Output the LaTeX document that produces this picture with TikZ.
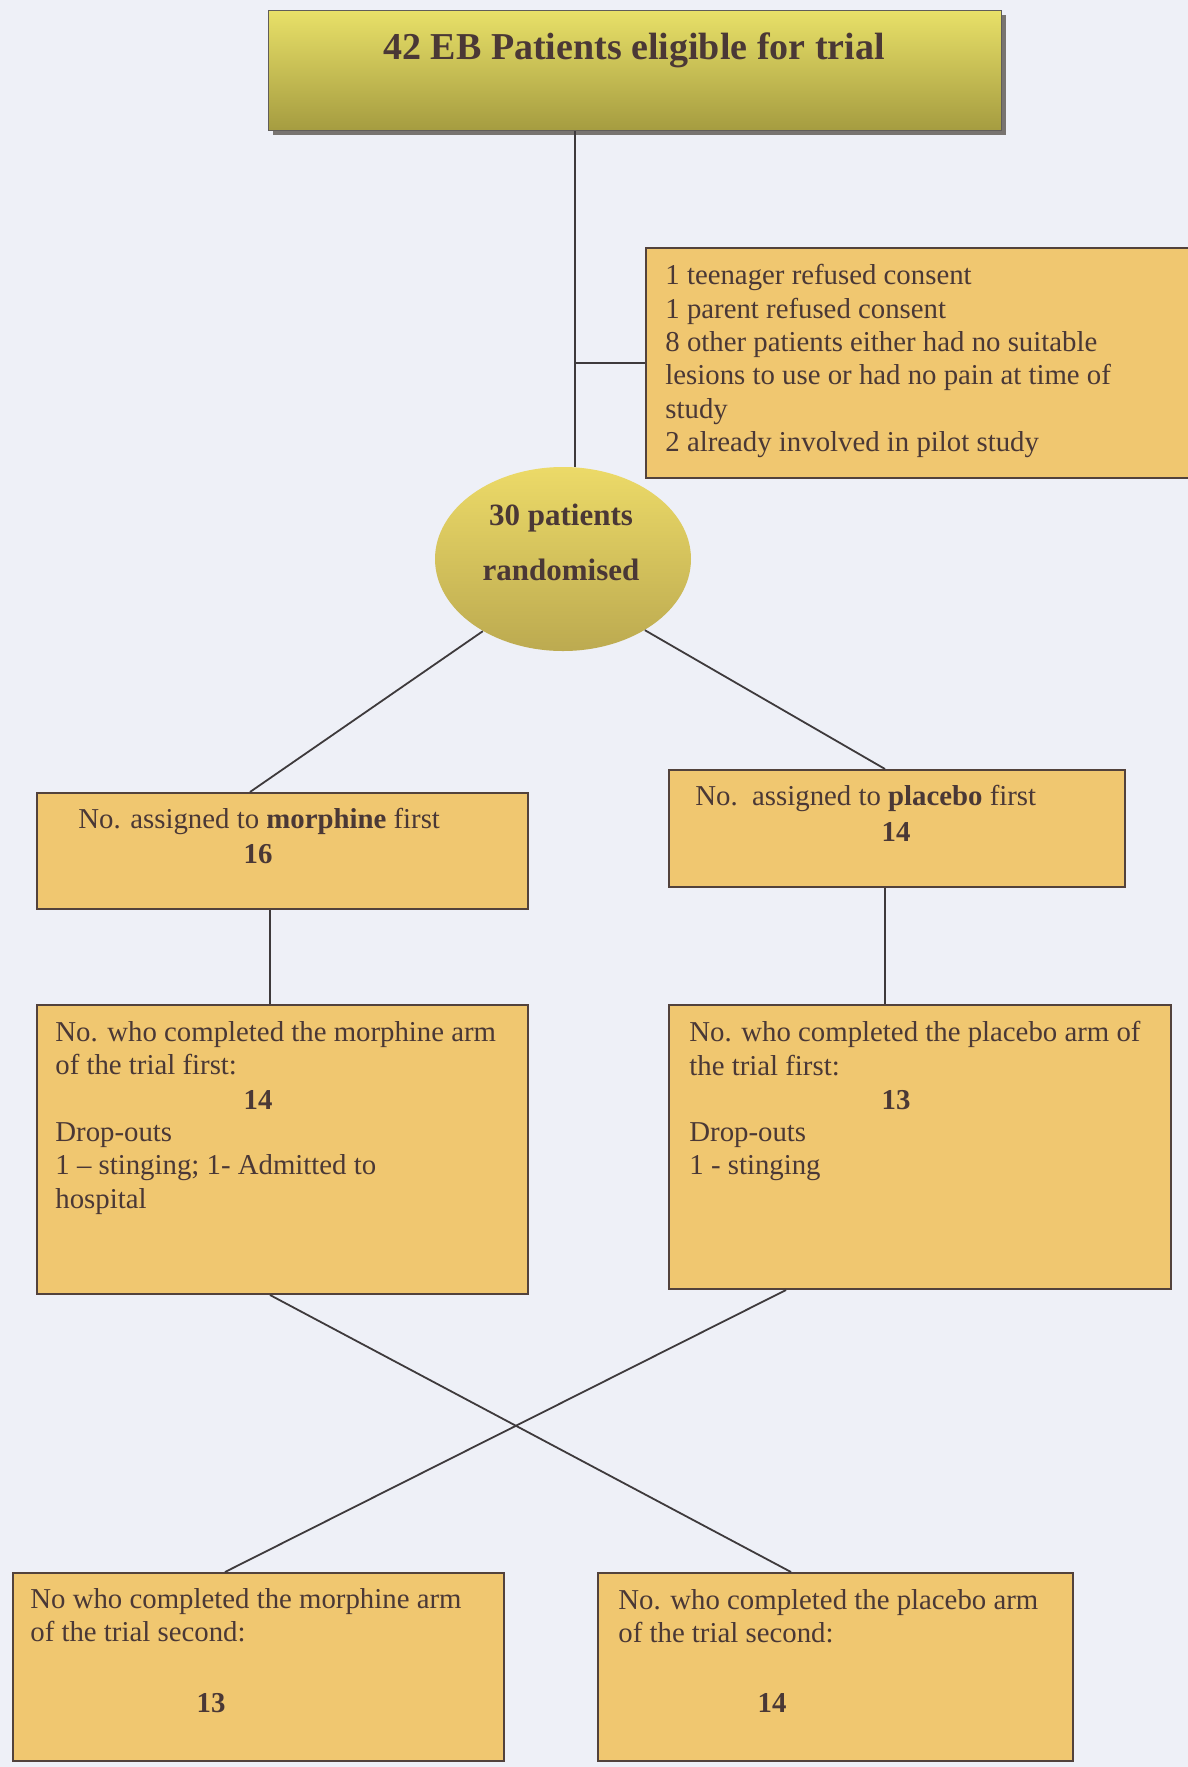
\documentclass[tikz,border=0pt]{standalone}
\usepackage{fontspec}
\setmainfont{Liberation Serif}
\usetikzlibrary{shapes.geometric}
\definecolor{bg}{RGB}{238,240,247}
\definecolor{boxfill}{RGB}{240,199,112}
\definecolor{boxline}{RGB}{82,66,60}
\definecolor{ink}{RGB}{74,56,54}
\definecolor{connc}{RGB}{62,58,60}
\definecolor{gtop}{RGB}{232,224,104}
\definecolor{gmid}{RGB}{207,197,88}
\definecolor{gbot}{RGB}{165,156,64}
\definecolor{etop}{RGB}{236,218,104}
\definecolor{emid}{RGB}{214,196,92}
\definecolor{ebot}{RGB}{188,170,80}
\definecolor{shadowc}{RGB}{120,116,112}
\begin{document}
\begin{tikzpicture}[x=0.5pt,y=-0.5pt,
  box/.style={draw=boxline, line width=1pt, fill=boxfill, rectangle, inner sep=0pt, anchor=north west},
  txt/.style={text=ink, font=\fontsize{14.4}{16.7}\selectfont, inner sep=0pt, align=left, anchor=north west},
  line1/.style={text=ink, font=\fontsize{14.4}{16.7}\selectfont, inner sep=0pt, anchor=base west},
  num/.style={text=ink, font=\fontsize{14.4}{16.7}\selectfont\bfseries, inner sep=0pt, anchor=base},
  etxt/.style={text=ink, font=\fontsize{15.5}{20}\selectfont\bfseries, inner sep=0pt, anchor=base},
  conn/.style={draw=connc, line width=0.9pt}]
\fill[bg] (0,0) rectangle (1188,1767);
\useasboundingbox (0,0) rectangle (1188,1767);
\clip (0,0) rectangle (1188,1767);

% top box with shadow
\fill[shadowc] (273,15) rectangle (1006,135);
\node[box, draw=shadowc!80!black, line width=0.6pt, top color=gtop, middle color=gmid, bottom color=gbot,
      minimum width=366.5pt, minimum height=60pt] (tb) at (268,10) {};
\node[text=ink, font=\fontsize{19}{22}\selectfont\bfseries, inner sep=0pt, anchor=base] (tt) at (634,59) {42 EB Patients eligible for trial};

% refusal box
\node[box, minimum width=275pt, minimum height=115pt] (R) at (645,247) {};
\node[txt] (Rt) at (665,264) {1 teenager refused consent\\1 parent refused consent\\8 other patients either had no suitable\\lesions to use or had no pain at time of\\study\\2 already involved in pilot study};

% randomised ellipse
\node[ellipse, draw=none, inner sep=0pt, minimum width=128pt, minimum height=92pt,
      top color=etop, middle color=emid, bottom color=ebot] (ell) at (563,559) {};
\node[etxt] (e1) at (561,525) {30 patients};
\node[etxt] (e2) at (561,580) {randomised};

% first assignment boxes
\node[box, minimum width=245.5pt, minimum height=58pt] (m1) at (36,792) {};
\node[line1] (m1t) at (78,828) {No. assigned to \textbf{morphine} first};
\node[num] (m1n) at (258,863) {16};

\node[box, minimum width=228pt, minimum height=58.5pt] (p1) at (668,769) {};
\node[line1] (p1t) at (695,805) {No.\ \ assigned to \textbf{placebo} first};
\node[num] (p1n) at (896,841) {14};

% completed first arm
\node[box, minimum width=245.5pt, minimum height=144.5pt] (m2) at (36,1004) {};
\node[txt] (m2a) at (55,1021) {No. who completed the morphine arm\\of the trial first:};
\node[num] (m2n) at (258,1109) {14};
\node[txt] (m2b) at (55,1122) {Drop-outs\\1 – stinging; 1- Admitted to\\hospital};

\node[box, minimum width=251pt, minimum height=142pt] (p2) at (668,1004) {};
\node[txt] (p2a) at (689,1021) {No. who completed the placebo arm of\\the trial first:};
\node[num] (p2n) at (896,1109) {13};
\node[txt] (p2b) at (689,1122) {Drop-outs\\1 - stinging};

% completed second arm
\node[box, minimum width=245.5pt, minimum height=94pt] (m3) at (12,1572) {};
\node[txt] (m3a) at (30,1588) {No who completed the morphine arm\\of the trial second:};
\node[num] (m3n) at (211,1712) {13};

\node[box, minimum width=237.5pt, minimum height=94pt] (p3) at (597,1572) {};
\node[txt] (p3a) at (618,1589) {No. who completed the placebo arm\\of the trial second:};
\node[num] (p3n) at (772,1712) {14};

% connectors
\coordinate (lx) at (575,0);
\draw[conn] (tb.south -| lx) -- (ell.north -| lx);
\draw[conn] (R.west -| lx) -- (R.west);
\draw[conn] (ell.-138) -- ([xshift=107pt]m1.north west);
\draw[conn] (ell.-41) -- ([xshift=108.5pt]p1.north west);
\draw[conn] ([xshift=117pt]m1.south west) -- ([xshift=117pt]m2.north west);
\draw[conn] ([xshift=108.5pt]p1.south west) -- ([xshift=108.5pt]p2.north west);
\draw[conn] ([xshift=117pt]m2.south west) -- ([xshift=97pt]p3.north west);
\draw[conn] ([xshift=59pt]p2.south west) -- ([xshift=106.5pt]m3.north west);
\end{tikzpicture}
\end{document}
